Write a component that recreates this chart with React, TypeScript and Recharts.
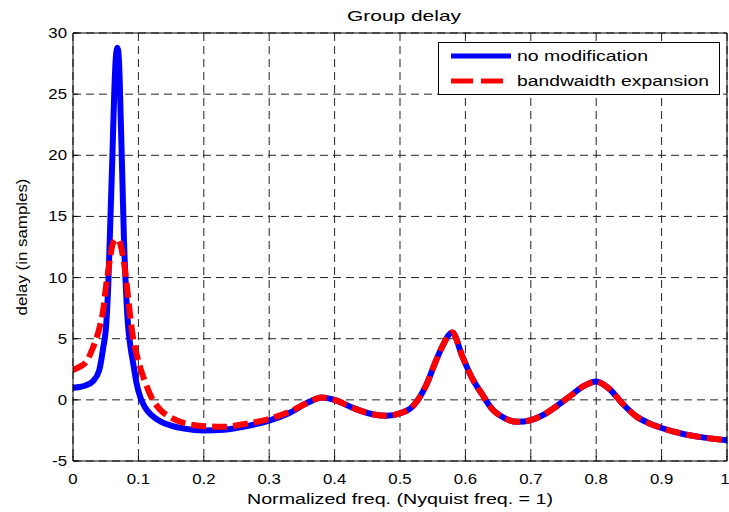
import { CartesianGrid, Label, Line, LineChart, XAxis, YAxis } from "recharts";

// normalized frequency (Nyquist = 1)
const freq = [
	0, 0.01, 0.02, 0.03, 0.04, 0.046, 0.051, 0.054, 0.057, 0.06, 0.063, 0.0655,
	0.068, 0.0705, 0.073, 0.0755, 0.078, 0.081, 0.084, 0.088, 0.092, 0.097, 0.103,
	0.11, 0.12, 0.135, 0.15, 0.17, 0.2, 0.23, 0.26, 0.3, 0.33, 0.36, 0.38, 0.4,
	0.43, 0.46, 0.48, 0.5, 0.52, 0.54, 0.555, 0.565, 0.58, 0.595, 0.61, 0.625,
	0.64, 0.66, 0.68, 0.7, 0.72, 0.74, 0.76, 0.78, 0.8, 0.82, 0.84, 0.86, 0.88,
	0.9, 0.93, 0.96, 1.0,
];

// group delay, no modification
const noModification = [
	1.0, 1.05, 1.2, 1.5, 2.4, 4.2, 6.3, 9.5, 14.5, 19.5, 25, 28, 28.8, 27.5, 23,
	18, 13, 9, 6.2, 4.3, 3.0, 1.4, 0.2, -0.6, -1.25, -1.8, -2.1, -2.35, -2.5, -2.45,
	-2.2, -1.7, -1.1, -0.2, 0.2, 0.0, -0.7, -1.2, -1.3, -1.1, -0.5, 1.2, 3.2, 4.4,
	5.5, 3.6, 1.8, 0.5, -0.7, -1.5, -1.8, -1.65, -1.2, -0.5, 0.3, 1.1, 1.5, 0.9,
	-0.3, -1.3, -1.9, -2.3, -2.75, -3.05, -3.3,
];

// group delay, bandwidth expansion
const bandwidthExpansion = [
	2.45, 2.7, 3.1, 4.2, 5.8, 7.3, 9.5, 10.6, 11.7, 12.6, 13.0, 13.1, 13.1, 13.0,
	12.6, 12.0, 11.2, 10.0, 8.5, 6.6, 5.0, 3.8, 2.6, 1.5, 0.2, -0.9, -1.45, -1.9,
	-2.15, -2.2, -2.0, -1.55, -1.0, -0.2, 0.2, 0.0, -0.7, -1.2, -1.3, -1.1, -0.5,
	1.2, 3.2, 4.4, 5.5, 3.6, 1.8, 0.5, -0.7, -1.5, -1.8, -1.65, -1.2, -0.5, 0.3,
	1.1, 1.5, 0.9, -0.3, -1.3, -1.9, -2.3, -2.75, -3.05, -3.3,
];

const xTicks = [0, 0.1, 0.2, 0.3, 0.4, 0.5, 0.6, 0.7, 0.8, 0.9, 1];
const yTicks = [-5, 0, 5, 10, 15, 20, 25, 30];
const seriesNames = ["no modification", "bandwaidth expansion"];

const rows = freq.map((f, i) => ({
	f,
	plain: noModification[i],
	expanded: bandwidthExpansion[i],
}));

const FONT = '"Liberation Sans", Arial, sans-serif';

function XTick({ x, y, payload }: any) {
	return (
		<text
			transform={`translate(${x},${y}) scale(1.2,1)`}
			textAnchor="middle"
			dominantBaseline="central"
			fontFamily={FONT}
			fontSize={14}
			fill="#000"
		>
			{String(payload.value)}
		</text>
	);
}

function YTick({ x, y, payload }: any) {
	return (
		<text
			transform={`translate(${x},${y}) scale(1.2,1)`}
			textAnchor="end"
			dominantBaseline="central"
			fontFamily={FONT}
			fontSize={14}
			fill="#000"
		>
			{String(payload.value)}
		</text>
	);
}

function Overlay() {
	return (
		<svg
			width={729}
			height={512}
			style={{ position: "absolute", left: 0, top: 0, pointerEvents: "none" }}
		>
			<text
				x={404}
				y={15}
				textAnchor="middle"
				dominantBaseline="central"
				fontFamily={FONT}
				fontSize={15}
				textLength={114}
				lengthAdjust="spacingAndGlyphs"
			>
				Group delay
			</text>
			{/* legend */}
			<rect x={438.5} y={42.5} width={281} height={52} fill="#fff" stroke="#000" strokeWidth={1} />
			<line x1={451} y1={56} x2={511} y2={56} stroke="#0000ff" strokeWidth={5} />
			<line
				x1={451}
				y1={81}
				x2={511}
				y2={81}
				stroke="#ff0000"
				strokeWidth={5}
				strokeDasharray="22 8"
			/>
			<text
				x={517}
				y={56}
				dominantBaseline="central"
				fontFamily={FONT}
				fontSize={14}
				textLength={131}
				lengthAdjust="spacingAndGlyphs"
			>
				{seriesNames[0]}
			</text>
			<text
				x={517}
				y={81}
				dominantBaseline="central"
				fontFamily={FONT}
				fontSize={14}
				textLength={192}
				lengthAdjust="spacingAndGlyphs"
			>
				{seriesNames[1]}
			</text>
		</svg>
	);
}

export default function App() {
	return (
		<div
			style={{
				position: "absolute",
				left: 0,
				top: 0,
				width: 729,
				height: 512,
				background: "#fff",
			}}
		>
			<LineChart
				width={729}
				height={512}
				data={rows}
				margin={{ top: 32, right: 1, bottom: 1, left: 0 }}
			>
				<CartesianGrid stroke="#222" strokeDasharray="8 5" />
				<XAxis
					dataKey="f"
					type="number"
					domain={[0, 1]}
					ticks={xTicks}
					allowDataOverflow
					height={50}
					tickSize={-5}
					tickMargin={23}
					tick={XTick}
					axisLine={{ stroke: "#000" }}
					tickLine={{ stroke: "#000" }}
				>
					<Label
						content={({ viewBox }: any) => (
							<text
								x={viewBox.x + viewBox.width / 2}
								y={viewBox.y + 38}
								textAnchor="middle"
								dominantBaseline="central"
								fontFamily={FONT}
								fontSize={14}
								textLength={306}
								lengthAdjust="spacingAndGlyphs"
							>
								Normalized freq. (Nyquist freq. = 1)
							</text>
						)}
					/>
				</XAxis>
				<XAxis
					xAxisId="top"
					orientation="top"
					type="number"
					dataKey="f"
					domain={[0, 1]}
					ticks={xTicks}
					allowDataOverflow
					height={1}
					tickSize={-5}
					tick={false}
					axisLine={{ stroke: "#000" }}
					tickLine={{ stroke: "#000" }}
				/>
				<YAxis
					type="number"
					domain={[-5, 30]}
					ticks={yTicks}
					allowDataOverflow
					width={73}
					tickSize={-5}
					tickMargin={11}
					tick={YTick}
					axisLine={{ stroke: "#000" }}
					tickLine={{ stroke: "#000" }}
				>
					<Label
						content={({ viewBox }: any) => {
							const cx = viewBox.x + 22;
							const cy = viewBox.y + viewBox.height / 2;
							return (
								<text
									x={cx}
									y={cy}
									transform={`rotate(-90 ${cx} ${cy})`}
									textAnchor="middle"
									dominantBaseline="central"
									fontFamily={FONT}
									fontSize={14}
									textLength={137}
									lengthAdjust="spacingAndGlyphs"
								>
									delay (in samples)
								</text>
							);
						}}
					/>
				</YAxis>
				<YAxis
					yAxisId="right"
					orientation="right"
					type="number"
					domain={[-5, 30]}
					ticks={yTicks}
					allowDataOverflow
					width={1}
					tickSize={-5}
					tick={false}
					axisLine={{ stroke: "#000" }}
					tickLine={{ stroke: "#000" }}
				/>

				<Line
					type="monotone"
					dataKey="plain"
					name={seriesNames[0]}
					stroke="#0000ff"
					strokeWidth={6}
					dot={false}
					activeDot={false}
					isAnimationActive={false}
				/>
				<Line
					type="monotone"
					dataKey="expanded"
					name={seriesNames[1]}
					stroke="#ff0000"
					strokeWidth={6}
					strokeDasharray="15 6"
					dot={false}
					activeDot={false}
					isAnimationActive={false}
				/>
			</LineChart>
			<Overlay />
		</div>
	);
}
